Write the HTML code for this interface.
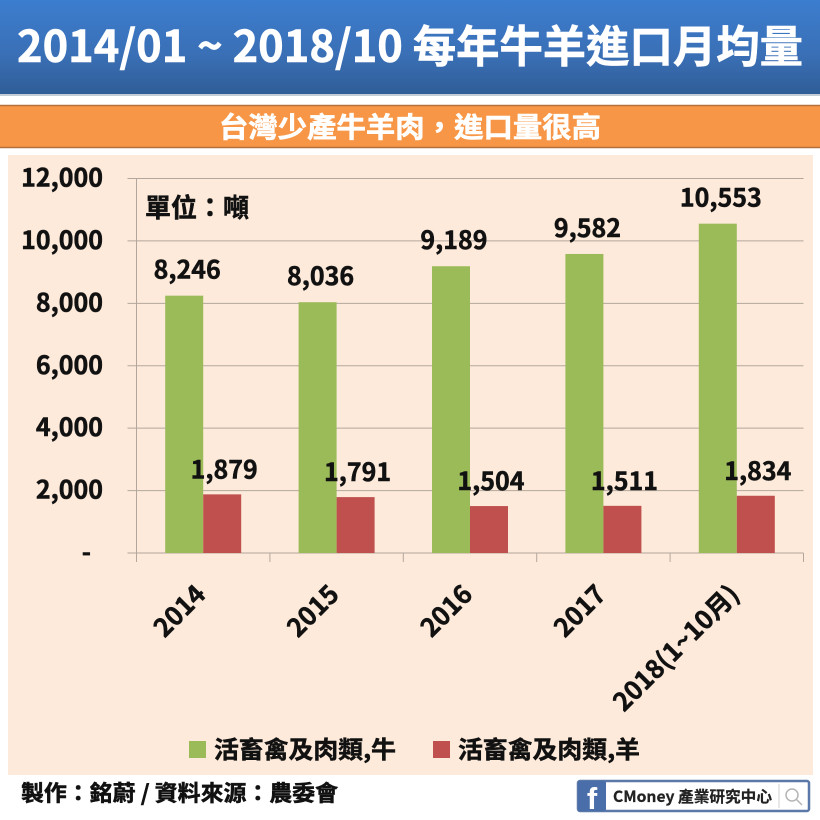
<!DOCTYPE html>
<html lang="zh-Hant">
<head>
<meta charset="utf-8">
<title>每年牛羊進口月均量</title>
<style>
html,body{margin:0;padding:0;background:#fff}
body{width:820px;height:820px;overflow:hidden;position:relative;font-family:"Liberation Sans","Noto Sans CJK TC",sans-serif}
svg{position:absolute;left:0;top:0}
text{font-family:"Liberation Sans","Noto Sans CJK TC",sans-serif;font-weight:700}
.num{font-family:"Noto Sans CJK TC","Liberation Sans",sans-serif;font-weight:700;stroke:#111;stroke-width:.5px}
.wht{stroke:#fff;stroke-width:.6px}
</style>
</head>
<body>
<svg id="chart" width="820" height="820" viewBox="0 0 820 820" xmlns="http://www.w3.org/2000/svg">
  <defs>
    <linearGradient id="hdr" x1="0" y1="0" x2="0" y2="1">
      <stop offset="0" stop-color="#3c7dcf"/>
      <stop offset="0.6" stop-color="#3a6fb5"/>
      <stop offset="1" stop-color="#2f5d97"/>
    </linearGradient>
  </defs>
  <rect x="0" y="0" width="820" height="94" fill="url(#hdr)"/>
  <rect x="0" y="94" width="820" height="2" fill="#c4ccd6"/>
  <text x="410" y="62" text-anchor="middle" fill="#fff" font-size="44" class="num wht" textLength="786" lengthAdjust="spacingAndGlyphs">2014/01 ~ 2018/10 每年牛羊進口月均量</text>
  <rect x="-1" y="105.500" width="822" height="42" fill="#f79646" stroke="#b5713a" stroke-width="1.500"/>
  <text x="410" y="137" text-anchor="middle" fill="#fff" font-size="28" class="num wht" textLength="382" lengthAdjust="spacingAndGlyphs">台灣少產牛羊肉，進口量很高</text>
  <rect x="8" y="155" width="805" height="620" fill="#fdeada"/>
  <g id="plot"></g>
  <text x="145" y="217" font-size="26" fill="#111" class="num">單位：噸</text>
  <rect x="189" y="741" width="17" height="17" fill="#9bbb59"/>
  <text x="214" y="758" font-size="24" fill="#111" class="num" textLength="182" lengthAdjust="spacingAndGlyphs">活畜禽及肉類,牛</text>
  <rect x="433" y="741" width="17" height="17" fill="#c0504d"/>
  <text x="458" y="758" font-size="24" fill="#111" class="num" textLength="182" lengthAdjust="spacingAndGlyphs">活畜禽及肉類,羊</text>
  <text x="21" y="801" font-size="22" fill="#111" class="num" textLength="317" lengthAdjust="spacingAndGlyphs">製作：銘蔚 / 資料來源：農委會</text>
  <g>
    <rect x="578" y="781" width="231" height="30" rx="2" fill="#fff" stroke="#5b79a8" stroke-width="2.500"/>
    <rect x="578" y="781" width="28" height="30" rx="2" fill="#4a6ea9"/>
    <text x="592" y="809" text-anchor="middle" font-size="31" fill="#fff">f</text>
    <text x="613" y="802" font-size="15.500" fill="#222" class="num" style="stroke-width:.2px" textLength="159" lengthAdjust="spacingAndGlyphs">CMoney 產業研究中心</text>
    <line x1="779" y1="784" x2="779" y2="808" stroke="#d0d0d0" stroke-width="1"/>
    <circle cx="792" cy="795" r="6" fill="none" stroke="#b5b5b5" stroke-width="1.500"/>
    <line x1="796.500" y1="799.500" x2="802" y2="805" stroke="#b5b5b5" stroke-width="1.500"/>
  </g>
</svg>
<script>
const categories = ['2014', '2015', '2016', '2017', '2018(1~10月)'];
const cattleValues = [8246, 8036, 9189, 9582, 10553];
const sheepValues = [1879, 1791, 1504, 1511, 1834];
const yTicks = [0, 2000, 4000, 6000, 8000, 10000, 12000];
const yMax = 12000;

const NS = 'http://www.w3.org/2000/svg';
const plot = document.getElementById('plot');
const left = 136.5, right = 803.5, top0 = 178.5, base = 553;
const band = (right - left) / categories.length;
const barW = 38;
function y(v) { return base - (v / yMax) * (base - top0); }
function bandStart(i) { return left + i * band; }
function fmt(v) { return v === 0 ? '-' : v.toLocaleString('en-US'); }
function mk(tag, attrs) {
  const el = document.createElementNS(NS, tag);
  Object.keys(attrs).forEach(function (k) { el.setAttribute(k, attrs[k]); });
  plot.appendChild(el);
  return el;
}

yTicks.forEach(function (t) {
  const line = mk('line', { x1: left - 9, x2: right, y1: y(t), y2: y(t), stroke: '#b3a79d', 'stroke-width': 1 });
  
  
  const label = mk('text', { x: t === 0 ? 91 : 103, y: y(t) + 8, 'text-anchor': 'end', 'font-size': 25, fill: '#111', class: 'num' });
  label.textContent = fmt(t);
  
  
});

const yAxis = mk('line', { x1: left, x2: left, y1: top0, y2: base + 9, stroke: '#b3a79d', 'stroke-width': 1 });



categories.forEach(function (c, i) {
  const tickX = bandStart(i + 1);
  const tick = mk('line', { x1: tickX, x2: tickX, y1: base, y2: base + 9, stroke: '#b3a79d', 'stroke-width': 1 });
  
  

  const mid = bandStart(i) + band / 2;

  const g = mk('rect', { x: mid - barW, y: y(cattleValues[i]), width: barW, height: base - y(cattleValues[i]), fill: '#9bbb59' });
  
  

  const r = mk('rect', { x: mid, y: y(sheepValues[i]), width: barW, height: base - y(sheepValues[i]), fill: '#c0504d' });
  
  

  const gl = mk('text', { x: mid - barW / 2 + 3, y: y(cattleValues[i]) - 17, 'text-anchor': 'middle', 'font-size': 25, fill: '#111', class: 'num' });
  gl.textContent = fmt(cattleValues[i]);
  
  

  const rl = mk('text', { x: mid + barW / 2 + 2, y: y(sheepValues[i]) - 16, 'text-anchor': 'middle', 'font-size': 25, fill: '#111', class: 'num' });
  rl.textContent = fmt(sheepValues[i]);
  
  

  const ax = mid + 4, ay = 596;
  const xl = mk('text', { x: ax, y: ay, 'text-anchor': 'end', 'font-size': 25.5, fill: '#111', class: 'num', transform: 'rotate(-45 ' + ax + ' ' + ay + ')' });
  xl.textContent = c;
  
  
});
</script>
</body>
</html>
